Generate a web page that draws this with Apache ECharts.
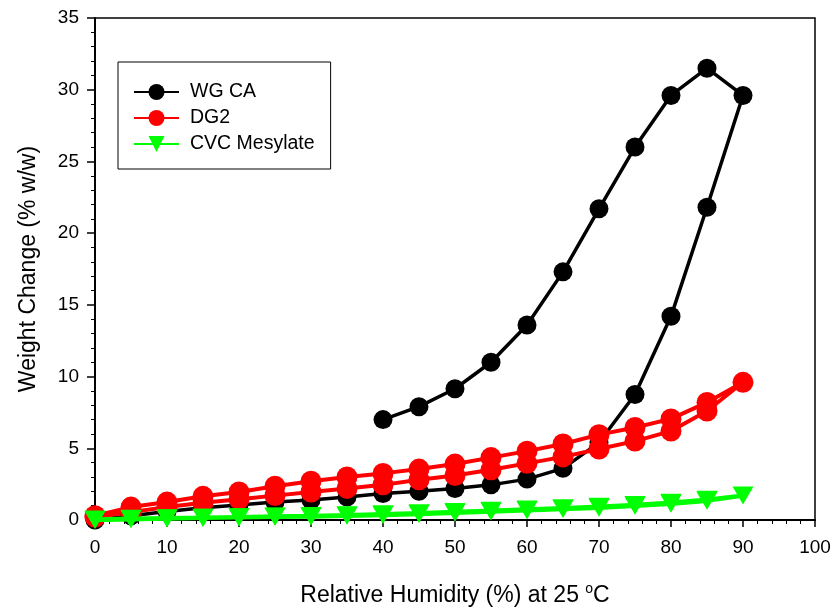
<!DOCTYPE html>
<html>
<head>
<meta charset="utf-8">
<script src="https://cdn.jsdelivr.net/npm/echarts@6/dist/echarts.min.js"></script>
<style>
  html, body { margin: 0; padding: 0; background: #fff; }
  #chart { width: 835px; height: 612px; }
</style>
</head>
<body>
<div id="chart"></div>
<script>
// relative humidity steps
const rhSorp = [0, 5, 10, 15, 20, 25, 30, 35, 40, 45, 50, 55, 60, 65, 70, 75, 80, 85, 90];
const rhDesorpWG = [85, 80, 75, 70, 65, 60, 55, 50, 45, 40];
const rhDesorp = [85, 80, 75, 70, 65, 60, 55, 50, 45, 40, 35, 30, 25, 20, 15, 10, 5, 0];

// WG CA: sorption then desorption (stops at 40 %RH)
const wgSorp = [0, 0.3, 0.6, 0.85, 1.05, 1.25, 1.4, 1.6, 1.85, 2.0, 2.2, 2.45, 2.85, 3.6, 5.4, 8.75, 14.2, 21.8, 29.6];
const wgDesorp = [31.5, 29.6, 26.0, 21.7, 17.3, 13.6, 11.0, 9.15, 7.9, 7.0];

// DG2
const dgSorp = [0.2, 0.55, 0.9, 1.2, 1.45, 1.7, 1.95, 2.2, 2.45, 2.8, 3.1, 3.5, 3.95, 4.4, 4.95, 5.5, 6.2, 7.6, 9.6];
const dgDesorp = [8.2, 7.05, 6.45, 5.95, 5.3, 4.8, 4.35, 3.9, 3.55, 3.25, 3.0, 2.7, 2.35, 1.95, 1.65, 1.25, 0.9, 0.3];

// CVC Mesylate
const cvcSorp = [0, 0.05, 0.1, 0.15, 0.2, 0.22, 0.25, 0.3, 0.35, 0.42, 0.5, 0.6, 0.68, 0.76, 0.85, 1.0, 1.13, 1.35, 1.7];
const cvcDesorp = [1.42, 1.2, 1.05, 0.92, 0.82, 0.74, 0.65, 0.56, 0.47, 0.4, 0.33, 0.28, 0.24, 0.2, 0.16, 0.12, 0.08, 0.03];

function loop(xs1, ys1, xs2, ys2) {
  const pts = xs1.map((x, i) => [x, ys1[i]]);
  xs2.forEach((x, i) => pts.push([x, ys2[i]]));
  return pts;
}

const font = 'Arial, "Liberation Sans", sans-serif';
const chart = echarts.init(document.getElementById('chart'));

chart.setOption({
  animation: false,
  textStyle: { fontFamily: font },
  grid: {
    left: 95, right: 20, top: 18, bottom: 86,
    show: true,
    borderColor: '#000',
    borderWidth: 1.5
  },
  legend: {
    orient: 'vertical',
    left: 118,
    top: 62,
    padding: [20, 16, 15, 15],
    itemWidth: 45,
    itemHeight: 20,
    itemGap: 6,
    borderColor: '#000',
    borderWidth: 1,
    textStyle: { fontSize: 19.5, color: '#000', fontFamily: font, padding: [0, 0, 0, 6] },
    data: ['WG CA', 'DG2', 'CVC Mesylate']
  },
  xAxis: {
    type: 'value',
    min: 0, max: 100, interval: 10,
    name: 'Relative Humidity (%) at 25 {sup|o}C',
    nameLocation: 'middle',
    nameGap: 62,
    nameTextStyle: {
      fontSize: 23, color: '#000', fontFamily: font,
      rich: { sup: { fontSize: 14, verticalAlign: 'top', padding: [0, 0, 13, 0], fontFamily: font, color: '#000' } }
    },
    axisLine: { lineStyle: { color: '#000', width: 2 } },
    axisTick: { length: 7, lineStyle: { color: '#000', width: 1.5 } },
    minorTick: { show: true, splitNumber: 5, length: 4, lineStyle: { color: '#000', width: 1 } },
    axisLabel: { fontSize: 19, color: '#000', margin: 18, fontFamily: font },
    splitLine: { show: false }
  },
  yAxis: {
    type: 'value',
    min: 0, max: 35, interval: 5,
    name: 'Weight Change (% w/w)',
    nameLocation: 'middle',
    nameGap: 55,
    nameTextStyle: { fontSize: 23, color: '#000', fontFamily: font },
    axisLine: { lineStyle: { color: '#000', width: 2 } },
    axisTick: { length: 8, lineStyle: { color: '#000', width: 1.5 } },
    minorTick: { show: true, splitNumber: 5, length: 4, lineStyle: { color: '#000', width: 1 } },
    axisLabel: { fontSize: 19, color: '#000', margin: 16, fontFamily: font },
    splitLine: { show: false }
  },
  series: [
    {
      name: 'WG CA',
      type: 'line',
      data: loop(rhSorp, wgSorp, rhDesorpWG, wgDesorp),
      symbol: 'circle',
      symbolSize: 19,
      lineStyle: { color: '#000', width: 3.5 },
      itemStyle: { color: '#000' },
      z: 2
    },
    {
      name: 'DG2',
      type: 'line',
      data: loop(rhSorp, dgSorp, rhDesorp, dgDesorp),
      symbol: 'circle',
      symbolSize: 21,
      lineStyle: { color: '#ff0000', width: 4 },
      itemStyle: { color: '#ff0000' },
      z: 3
    },
    {
      name: 'CVC Mesylate',
      type: 'line',
      data: loop(rhSorp, cvcSorp, rhDesorp, cvcDesorp),
      symbol: 'triangle',
      symbolRotate: 180,
      symbolSize: [21, 18],
      lineStyle: { color: '#00ff00', width: 4.5 },
      itemStyle: { color: '#00ff00' },
      z: 4
    }
  ]
});
</script>
</body>
</html>
